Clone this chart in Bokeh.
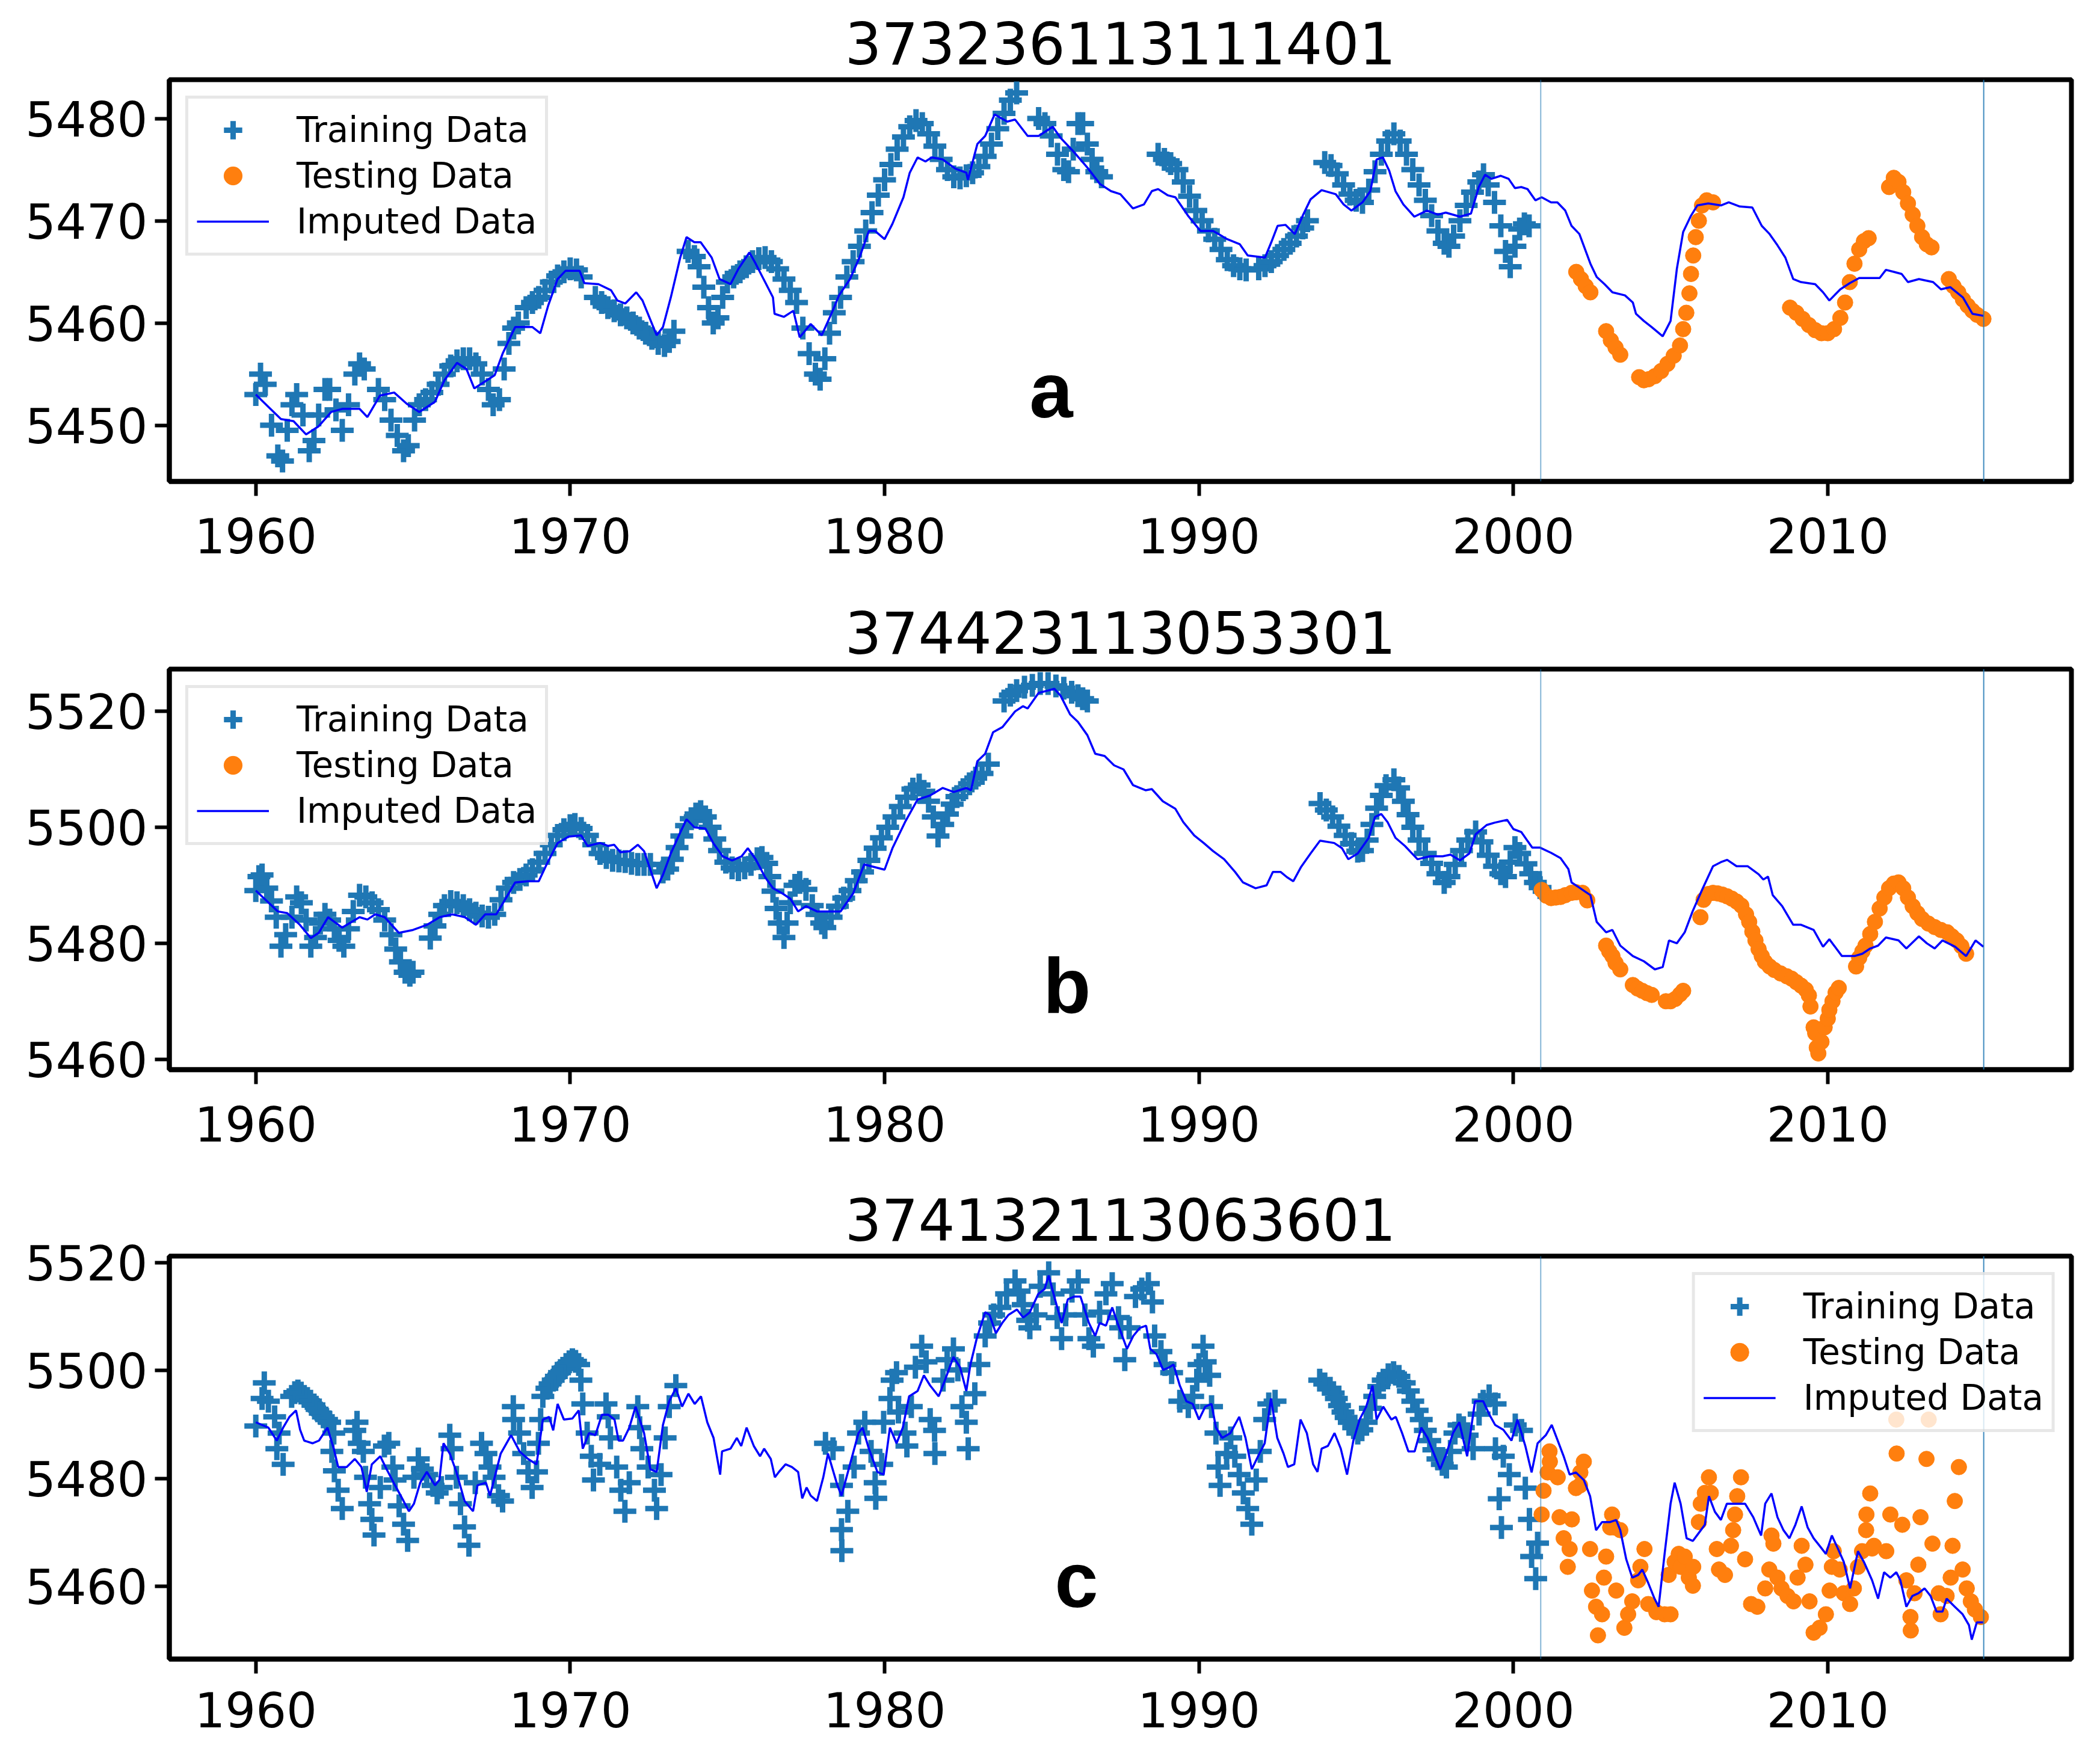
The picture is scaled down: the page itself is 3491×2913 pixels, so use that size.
from bokeh.plotting import figure
from bokeh.layouts import column
from bokeh.models import Range1d, Span, Legend, LegendItem
from bokeh.core.properties import value
from bokeh.embed import file_html
from bokeh.resources import INLINE

TRAIN_COLOR = "#1f77b4"
TEST_COLOR = "#ff7f0e"
IMP_COLOR = "#0000ff"
X_TICKS = [1960, 1970, 1980, 1990, 2000, 2010]
X_RANGE = (1957.25, 2017.75)
SPLIT_YEARS = [2000.87, 2014.96]
LEGEND_LABELS = ["Training Data", "Testing Data", "Imputed Data"]

# ---------------- panel a ----------------
A_TITLE = "373236113111401"
A_YTICKS = [5450, 5460, 5470, 5480]
A_YRANGE = (5444.5, 5483.8)
A_LETTER = ("a", 1985.3, 5453.4)
A_TRAIN = [
    (1960.0, 5453.0), (1960.15, 5455.0), (1960.3, 5454.0), (1960.5, 5450.0), (1960.7, 5447.0), (1960.85, 5446.5),
    (1961.0, 5449.5), (1961.15, 5452.0), (1961.3, 5453.0), (1961.5, 5451.0), (1961.7, 5447.5), (1961.85, 5448.5),
    (1962.0, 5451.0), (1962.2, 5453.5), (1962.35, 5453.5), (1962.55, 5451.5), (1962.75, 5449.5), (1962.95, 5452.0),
    (1963.15, 5455.0), (1963.3, 5456.0), (1963.45, 5455.5), (1963.9, 5453.5), (1964.1, 5452.5), (1964.3, 5450.5),
    (1964.5, 5449.0), (1964.7, 5447.5), (1964.85, 5448.0), (1965.05, 5450.5), (1965.2, 5452.0), (1965.4, 5452.5),
    (1965.6, 5453.2), (1965.8, 5454.0), (1966.0, 5455.0), (1966.2, 5455.8), (1966.4, 5456.3), (1966.6, 5456.5),
    (1966.8, 5456.5), (1967.0, 5456.0), (1967.2, 5455.0), (1967.4, 5453.5), (1967.55, 5452.0), (1967.75, 5452.5),
    (1967.9, 5455.5), (1968.05, 5458.0), (1968.2, 5459.5), (1968.35, 5460.0), (1968.6, 5461.5), (1968.8, 5462.0),
    (1969.0, 5462.5), (1969.2, 5463.2), (1969.4, 5464.0), (1969.6, 5464.6), (1969.8, 5465.0), (1970.0, 5465.3),
    (1970.2, 5465.2), (1970.35, 5464.5), (1970.8, 5462.5), (1971.0, 5462.0), (1971.2, 5461.5), (1971.4, 5461.2),
    (1971.6, 5460.8), (1971.8, 5460.5), (1972.0, 5460.0), (1972.2, 5459.5), (1972.4, 5459.0), (1972.6, 5458.5),
    (1972.8, 5458.0), (1973.0, 5457.8), (1973.15, 5458.2), (1973.3, 5459.2), (1973.75, 5467.0), (1973.95, 5466.5),
    (1974.1, 5465.5), (1974.25, 5463.5), (1974.4, 5461.5), (1974.55, 5460.0), (1974.7, 5460.5), (1974.85, 5462.5),
    (1975.0, 5464.0), (1975.2, 5464.5), (1975.4, 5465.0), (1975.6, 5465.5), (1975.8, 5466.0), (1976.0, 5466.3),
    (1976.2, 5466.4), (1976.4, 5466.0), (1976.6, 5465.3), (1976.8, 5464.3), (1977.0, 5463.2), (1977.2, 5462.0),
    (1977.4, 5459.5), (1977.6, 5457.0), (1977.8, 5455.0), (1977.95, 5454.5), (1978.1, 5456.5), (1978.25, 5459.0),
    (1978.4, 5461.0), (1978.6, 5462.5), (1978.8, 5464.5), (1979.0, 5466.0), (1979.2, 5467.5), (1979.4, 5469.0),
    (1979.6, 5470.8), (1979.8, 5472.5), (1980.0, 5474.0), (1980.2, 5475.5), (1980.4, 5477.0), (1980.6, 5478.2),
    (1980.8, 5479.2), (1981.0, 5479.8), (1981.2, 5479.5), (1981.4, 5478.5), (1981.6, 5477.3), (1981.8, 5476.0),
    (1982.0, 5475.0), (1982.2, 5474.3), (1982.4, 5474.2), (1982.6, 5474.4), (1982.8, 5474.7), (1983.0, 5475.3),
    (1983.2, 5476.3), (1983.4, 5477.5), (1983.6, 5479.0), (1983.8, 5480.5), (1984.0, 5481.8), (1984.2, 5482.5),
    (1984.9, 5480.0), (1985.1, 5479.5), (1985.3, 5478.3), (1985.5, 5476.5), (1985.7, 5475.0), (1985.85, 5474.8),
    (1986.0, 5477.0), (1986.15, 5479.5), (1986.3, 5479.5), (1986.45, 5477.5), (1986.6, 5476.0), (1986.75, 5474.8),
    (1986.9, 5474.3), (1988.7, 5476.5), (1988.9, 5476.0), (1989.1, 5475.6), (1989.3, 5475.0), (1989.5, 5473.8),
    (1989.7, 5472.4), (1989.9, 5471.0), (1990.1, 5470.0), (1990.3, 5469.0), (1990.5, 5468.2), (1990.7, 5467.2),
    (1990.9, 5466.2), (1991.1, 5465.6), (1991.3, 5465.3), (1991.5, 5465.2), (1991.9, 5465.3), (1992.1, 5465.6),
    (1992.3, 5466.0), (1992.5, 5466.6), (1992.7, 5467.2), (1992.9, 5467.8), (1993.1, 5468.5), (1993.3, 5469.3),
    (1993.45, 5470.0), (1994.0, 5475.7), (1994.2, 5475.4), (1994.4, 5474.6), (1994.6, 5473.5), (1994.8, 5472.6),
    (1995.0, 5472.0), (1995.2, 5471.8), (1995.4, 5473.0), (1995.6, 5474.8), (1995.8, 5476.5), (1996.0, 5477.8),
    (1996.2, 5478.5), (1996.4, 5477.8), (1996.6, 5476.5), (1996.8, 5475.0), (1997.0, 5473.5), (1997.2, 5472.0),
    (1997.4, 5470.5), (1997.6, 5469.0), (1997.8, 5467.8), (1997.95, 5467.5), (1998.1, 5468.5), (1998.3, 5470.0),
    (1998.5, 5471.5), (1998.7, 5472.8), (1998.9, 5473.8), (1999.05, 5474.5), (1999.2, 5473.5), (1999.4, 5471.8),
    (1999.6, 5469.5), (1999.75, 5467.0), (1999.9, 5465.5), (2000.05, 5467.5), (2000.2, 5469.2), (2000.35, 5469.7),
    (2000.5, 5469.5),
]
A_TEST = [
    (2002.0, 5465.0), (2002.15, 5464.3), (2002.3, 5463.6), (2002.45, 5463.0),
    (2002.95, 5459.2), (2003.1, 5458.3), (2003.25, 5457.6), (2003.4, 5456.9),
    (2004.0, 5454.7), (2004.15, 5454.4), (2004.3, 5454.5), (2004.5, 5454.8), (2004.7, 5455.3), (2004.9, 5456.0),
    (2005.1, 5456.8), (2005.3, 5457.8), (2005.4, 5459.4), (2005.5, 5461.0), (2005.6, 5462.9), (2005.65, 5464.8),
    (2005.72, 5466.6), (2005.8, 5468.4), (2005.9, 5470.0), (2006.0, 5471.5), (2006.15, 5472.0), (2006.35, 5471.8),
    (2008.8, 5461.5), (2009.0, 5461.0), (2009.2, 5460.4), (2009.4, 5459.8), (2009.6, 5459.3), (2009.8, 5459.0),
    (2010.0, 5459.0), (2010.2, 5459.4), (2010.4, 5460.5), (2010.55, 5462.0), (2010.7, 5464.0), (2010.85, 5465.8),
    (2011.0, 5467.2), (2011.15, 5468.0), (2011.3, 5468.3),
    (2011.95, 5473.3), (2012.1, 5474.2), (2012.25, 5473.8), (2012.4, 5472.8), (2012.55, 5471.7), (2012.7, 5470.6),
    (2012.85, 5469.5), (2013.0, 5468.4), (2013.15, 5467.7), (2013.3, 5467.4),
    (2013.85, 5464.3), (2014.0, 5463.6), (2014.15, 5463.0), (2014.3, 5462.3), (2014.45, 5461.7), (2014.6, 5461.2),
    (2014.75, 5460.8), (2014.95, 5460.4),
]
A_IMP = [
    (1960.0, 5453.0), (1960.4, 5451.8), (1960.8, 5450.6), (1961.2, 5450.4), (1961.6, 5449.1), (1962.0, 5449.9),
    (1962.4, 5451.3), (1962.75, 5451.6), (1963.3, 5451.6), (1963.55, 5450.8), (1963.95, 5452.9), (1964.4, 5453.2),
    (1964.8, 5452.1), (1965.2, 5451.3), (1965.7, 5452.3), (1966.0, 5454.4), (1966.4, 5456.1), (1966.7, 5455.5),
    (1966.95, 5453.6), (1967.3, 5454.3), (1967.6, 5454.9), (1967.85, 5457.0), (1968.25, 5459.6), (1968.8, 5459.6),
    (1969.05, 5459.0), (1969.3, 5461.7), (1969.6, 5464.3), (1969.85, 5465.1), (1970.3, 5465.1), (1970.45, 5463.9),
    (1970.9, 5463.8), (1971.3, 5463.2), (1971.5, 5462.2), (1971.75, 5461.9), (1972.1, 5463.0), (1972.3, 5462.2),
    (1972.75, 5458.8), (1972.95, 5459.6), (1973.2, 5462.5), (1973.5, 5466.4), (1973.7, 5468.4), (1973.95, 5467.9),
    (1974.15, 5467.9), (1974.5, 5466.4), (1974.75, 5464.3), (1975.1, 5463.8), (1975.35, 5465.3), (1975.7, 5466.9),
    (1975.9, 5465.8), (1976.2, 5464.0), (1976.45, 5462.5), (1976.5, 5460.9), (1976.8, 5460.6), (1977.1, 5461.2),
    (1977.3, 5458.6), (1977.65, 5459.9), (1978.0, 5458.8), (1978.35, 5461.2), (1978.55, 5462.7), (1978.9, 5464.3),
    (1979.2, 5466.4), (1979.5, 5469.0), (1979.7, 5469.0), (1980.0, 5468.2), (1980.25, 5469.7), (1980.6, 5472.3),
    (1980.8, 5474.7), (1981.05, 5476.2), (1981.3, 5475.8), (1981.5, 5476.2), (1981.85, 5476.0), (1982.25, 5475.1),
    (1982.6, 5474.7), (1982.65, 5474.0), (1982.95, 5477.5), (1983.2, 5478.3), (1983.5, 5480.4), (1983.9, 5479.7),
    (1984.15, 5479.9), (1984.55, 5478.3), (1984.9, 5478.3), (1985.35, 5479.2), (1985.6, 5478.1), (1986.0, 5476.8),
    (1986.45, 5475.2), (1986.85, 5473.6), (1987.2, 5472.9), (1987.5, 5472.6), (1987.9, 5471.2), (1988.25, 5471.6),
    (1988.5, 5472.9), (1988.7, 5473.1), (1989.0, 5472.5), (1989.25, 5472.3), (1989.65, 5470.5), (1990.05, 5469.0),
    (1990.45, 5469.0), (1990.9, 5468.2), (1991.3, 5467.7), (1991.55, 5466.6), (1992.1, 5466.4), (1992.3, 5467.9),
    (1992.5, 5469.5), (1992.75, 5469.6), (1993.05, 5468.7), (1993.3, 5470.5), (1993.55, 5472.1), (1993.9, 5473.0),
    (1994.35, 5472.6), (1994.6, 5471.6), (1994.85, 5471.0), (1995.2, 5471.8), (1995.45, 5472.9), (1995.65, 5476.0),
    (1995.85, 5476.2), (1996.05, 5474.9), (1996.25, 5472.9), (1996.5, 5471.6), (1996.85, 5470.4), (1997.25, 5471.0),
    (1997.6, 5470.6), (1997.85, 5470.8), (1998.3, 5470.4), (1998.65, 5470.7), (1998.9, 5473.3), (1999.1, 5474.5),
    (1999.3, 5474.1), (1999.6, 5474.4), (1999.85, 5474.1), (2000.05, 5473.2), (2000.25, 5473.3), (2000.45, 5473.1),
    (2000.7, 5472.0), (2000.9, 5472.3), (2001.2, 5471.8), (2001.4, 5471.8), (2001.65, 5471.0), (2001.85, 5469.5),
    (2002.1, 5468.7), (2002.45, 5465.8), (2002.65, 5464.5), (2002.9, 5463.8), (2003.15, 5463.0), (2003.55, 5462.7),
    (2003.8, 5462.0), (2003.9, 5460.9), (2004.15, 5460.2), (2004.4, 5459.6), (2004.75, 5458.7), (2005.0, 5460.2),
    (2005.2, 5465.3), (2005.4, 5468.9), (2005.65, 5470.5), (2005.85, 5471.5), (2006.2, 5471.7), (2006.6, 5471.5),
    (2006.85, 5471.8), (2007.2, 5471.4), (2007.6, 5471.3), (2007.9, 5469.5), (2008.15, 5468.7), (2008.4, 5467.6),
    (2008.65, 5466.4), (2008.9, 5464.3), (2009.15, 5464.0), (2009.6, 5463.8), (2009.85, 5463.0), (2010.05, 5462.2),
    (2010.4, 5463.3), (2010.7, 5463.9), (2011.0, 5464.4), (2011.3, 5464.4), (2011.65, 5464.4), (2011.85, 5465.2),
    (2012.1, 5465.0), (2012.35, 5464.8), (2012.55, 5464.0), (2012.9, 5464.3), (2013.35, 5464.0), (2013.6, 5463.3),
    (2013.9, 5463.5), (2014.3, 5462.5), (2014.6, 5460.9), (2014.95, 5460.7),
]

# ---------------- panel b ----------------
B_TITLE = "374423113053301"
B_YTICKS = [5460, 5480, 5500, 5520]
B_YRANGE = (5458.2, 5527.3)
B_LETTER = ("b", 1985.8, 5472.7)
B_TRAIN = [
    (1960.0, 5489.1), (1960.1, 5491.5), (1960.2, 5491.8), (1960.35, 5489.5), (1960.5, 5487.3), (1960.65, 5484.5),
    (1960.8, 5479.5), (1960.95, 5481.5), (1961.15, 5484.5), (1961.3, 5488.0), (1961.45, 5487.0), (1961.6, 5484.0),
    (1961.75, 5479.5), (1961.9, 5481.0), (1962.05, 5483.5), (1962.2, 5485.0), (1962.35, 5484.0), (1962.5, 5482.5),
    (1962.65, 5480.5), (1962.8, 5479.5), (1962.95, 5482.5), (1963.1, 5485.5), (1963.3, 5488.3), (1963.5, 5488.0),
    (1963.7, 5487.0), (1963.9, 5485.8), (1964.1, 5484.0), (1964.3, 5481.5), (1964.45, 5479.0), (1964.6, 5476.8),
    (1964.75, 5475.0), (1964.9, 5474.5), (1965.0, 5475.0), (1965.55, 5480.9), (1965.7, 5483.0), (1965.85, 5485.0),
    (1966.0, 5486.5), (1966.2, 5487.2), (1966.4, 5487.0), (1966.6, 5486.5), (1966.8, 5485.8), (1967.0, 5485.2),
    (1967.2, 5484.7), (1967.4, 5484.5), (1967.6, 5485.0), (1967.8, 5487.5), (1968.0, 5489.5), (1968.2, 5490.5),
    (1968.4, 5491.0), (1968.6, 5491.8), (1968.8, 5492.7), (1969.0, 5494.0), (1969.2, 5495.5), (1969.4, 5497.0),
    (1969.6, 5498.6), (1969.8, 5499.6), (1970.0, 5500.3), (1970.15, 5500.5), (1970.35, 5499.8), (1970.55, 5498.6),
    (1970.75, 5497.0), (1970.95, 5495.5), (1971.15, 5494.8), (1971.35, 5494.3), (1971.55, 5494.2), (1971.75, 5494.1),
    (1971.95, 5493.8), (1972.15, 5493.6), (1972.35, 5493.6), (1972.55, 5493.6), (1972.95, 5492.3), (1973.1, 5492.8),
    (1973.25, 5494.5), (1973.4, 5496.5), (1973.55, 5498.5), (1973.7, 5500.3), (1973.85, 5501.5), (1974.0, 5502.3),
    (1974.15, 5502.7), (1974.3, 5501.8), (1974.45, 5500.0), (1974.6, 5498.0), (1974.75, 5496.0), (1974.95, 5494.0),
    (1975.15, 5493.0), (1975.35, 5492.7), (1975.55, 5493.0), (1975.75, 5493.6), (1975.95, 5494.6), (1976.1, 5494.8),
    (1976.25, 5493.8), (1976.35, 5491.5), (1976.45, 5489.0), (1976.55, 5486.0), (1976.65, 5483.5), (1976.8, 5481.0),
    (1976.9, 5483.5), (1977.0, 5487.0), (1977.15, 5490.0), (1977.3, 5490.5), (1977.5, 5489.3), (1977.7, 5486.5),
    (1977.85, 5485.0), (1978.0, 5483.5), (1978.1, 5482.7), (1978.3, 5484.5), (1978.5, 5486.4), (1978.7, 5487.8),
    (1978.9, 5489.1), (1979.1, 5490.8), (1979.3, 5492.3), (1979.5, 5494.3), (1979.7, 5496.4), (1979.9, 5498.2),
    (1980.1, 5500.0), (1980.3, 5501.8), (1980.5, 5503.6), (1980.7, 5505.2), (1980.9, 5506.6), (1981.1, 5507.3),
    (1981.25, 5506.2), (1981.4, 5504.5), (1981.55, 5501.8), (1981.7, 5498.5), (1981.85, 5500.5), (1982.0, 5502.3),
    (1982.15, 5504.0), (1982.3, 5505.3), (1982.5, 5506.5), (1982.7, 5507.5), (1982.9, 5508.5), (1983.1, 5509.3),
    (1983.3, 5510.9), (1983.8, 5521.8), (1984.0, 5522.8), (1984.2, 5523.6), (1984.45, 5524.2), (1984.7, 5524.5),
    (1984.95, 5524.8), (1985.2, 5524.8), (1985.45, 5524.4), (1985.7, 5524.0), (1985.95, 5523.3), (1986.15, 5522.7),
    (1986.3, 5522.2), (1986.45, 5521.8), (1993.85, 5504.1), (1994.05, 5503.0), (1994.25, 5501.8), (1994.45, 5500.2),
    (1994.65, 5498.6), (1994.85, 5497.2), (1995.05, 5495.9), (1995.2, 5496.0), (1995.35, 5497.8), (1995.5, 5500.5),
    (1995.65, 5503.3), (1995.8, 5505.5), (1995.95, 5507.2), (1996.2, 5508.2), (1996.35, 5506.8), (1996.5, 5504.5),
    (1996.65, 5502.2), (1996.8, 5500.0), (1997.0, 5497.8), (1997.2, 5495.5), (1997.4, 5493.8), (1997.6, 5492.0),
    (1997.8, 5490.5), (1997.95, 5491.5), (1998.15, 5493.6), (1998.35, 5496.0), (1998.55, 5497.8), (1998.8, 5499.2),
    (1999.0, 5497.5), (1999.2, 5495.2), (1999.4, 5493.3), (1999.6, 5492.0), (1999.75, 5491.5), (1999.9, 5494.0),
    (2000.05, 5496.5), (2000.2, 5495.5), (2000.4, 5493.7), (2000.55, 5492.0), (2000.7, 5490.5), (2000.85, 5489.6),
]
B_TEST = [
    (2000.9, 5489.2), (2001.05, 5488.2), (2001.2, 5487.8), (2001.35, 5487.9), (2001.5, 5488.0), (2001.65, 5488.3),
    (2001.85, 5488.7), (2002.0, 5488.8), (2002.2, 5488.7), (2002.35, 5487.4),
    (2002.95, 5479.6), (2003.05, 5478.6), (2003.15, 5477.8), (2003.25, 5476.6), (2003.4, 5475.5),
    (2003.8, 5472.8), (2003.95, 5472.2), (2004.1, 5471.8), (2004.25, 5471.4), (2004.4, 5471.1),
    (2004.85, 5470.0), (2005.0, 5470.0), (2005.15, 5470.4), (2005.3, 5471.2), (2005.4, 5471.8),
    (2005.95, 5484.5), (2006.05, 5487.5), (2006.2, 5488.5), (2006.35, 5488.7), (2006.5, 5488.6), (2006.65, 5488.4),
    (2006.8, 5488.1), (2006.95, 5487.7), (2007.1, 5487.2), (2007.25, 5486.5), (2007.4, 5485.0), (2007.5, 5483.7),
    (2007.6, 5482.0), (2007.7, 5480.5), (2007.8, 5479.0), (2007.9, 5477.8), (2008.0, 5476.8), (2008.15, 5476.0),
    (2008.3, 5475.4), (2008.5, 5474.8), (2008.7, 5474.3), (2008.85, 5473.9), (2009.0, 5473.3), (2009.15, 5472.7),
    (2009.3, 5472.0), (2009.4, 5471.0), (2009.45, 5469.1), (2009.55, 5465.5), (2009.6, 5464.5), (2009.65, 5462.0),
    (2009.7, 5461.0), (2009.8, 5463.0), (2009.9, 5465.5), (2010.0, 5467.0), (2010.05, 5468.5), (2010.15, 5470.0),
    (2010.25, 5471.5), (2010.35, 5472.3),
    (2010.9, 5476.0), (2011.0, 5477.5), (2011.1, 5478.6), (2011.2, 5479.6), (2011.35, 5481.6), (2011.5, 5483.7),
    (2011.65, 5486.0), (2011.8, 5487.9), (2011.95, 5489.5), (2012.1, 5490.3), (2012.25, 5490.5), (2012.4, 5489.5),
    (2012.55, 5487.9), (2012.7, 5486.4), (2012.85, 5485.2), (2013.0, 5484.2), (2013.2, 5483.4), (2013.4, 5482.8),
    (2013.6, 5482.3), (2013.8, 5481.9), (2013.95, 5481.2), (2014.1, 5480.5), (2014.25, 5479.5), (2014.4, 5478.2),
]
B_IMP = [
    (1960.0, 5489.1), (1960.35, 5487.3), (1960.7, 5485.5), (1961.0, 5485.2), (1961.4, 5483.2), (1961.75, 5480.9),
    (1962.0, 5481.8), (1962.3, 5484.5), (1962.75, 5482.7), (1963.3, 5484.5), (1963.55, 5484.1), (1963.8, 5485.0),
    (1964.1, 5484.5), (1964.55, 5481.8), (1965.0, 5482.3), (1965.45, 5483.2), (1965.85, 5484.5), (1966.25, 5485.0),
    (1966.65, 5484.5), (1967.0, 5483.2), (1967.3, 5485.0), (1967.65, 5485.0), (1968.0, 5488.2), (1968.25, 5490.5),
    (1968.65, 5490.7), (1969.0, 5490.7), (1969.25, 5493.6), (1969.6, 5497.3), (1969.95, 5498.4), (1970.35, 5498.6),
    (1970.55, 5496.8), (1970.95, 5497.3), (1971.2, 5496.8), (1971.4, 5497.0), (1971.6, 5495.7), (1971.9, 5495.9),
    (1972.15, 5497.0), (1972.35, 5495.9), (1972.55, 5492.7), (1972.75, 5489.5), (1972.95, 5491.8), (1973.2, 5495.5),
    (1973.5, 5499.1), (1973.7, 5501.4), (1973.95, 5500.0), (1974.3, 5499.8), (1974.55, 5497.3), (1974.85, 5495.0),
    (1975.15, 5494.3), (1975.45, 5495.0), (1975.65, 5496.4), (1975.9, 5494.5), (1976.2, 5491.4), (1976.45, 5489.5),
    (1976.75, 5488.6), (1977.0, 5487.7), (1977.25, 5485.5), (1977.5, 5486.4), (1977.85, 5485.5), (1978.1, 5485.5),
    (1978.6, 5485.5), (1979.0, 5488.6), (1979.35, 5493.6), (1980.0, 5492.7), (1980.25, 5496.4), (1980.65, 5500.9),
    (1981.05, 5504.8), (1981.45, 5505.5), (1981.85, 5506.8), (1982.2, 5506.1), (1982.6, 5506.8), (1982.75, 5506.4),
    (1982.95, 5511.4), (1983.2, 5512.7), (1983.45, 5516.4), (1983.75, 5517.3), (1984.15, 5520.0), (1984.4, 5520.9),
    (1984.55, 5520.5), (1984.9, 5523.2), (1985.2, 5523.6), (1985.4, 5523.9), (1985.6, 5522.7), (1985.9, 5519.5),
    (1986.15, 5518.2), (1986.45, 5515.9), (1986.7, 5512.7), (1987.0, 5512.3), (1987.3, 5510.7), (1987.6, 5510.0),
    (1987.9, 5507.3), (1988.3, 5506.4), (1988.5, 5506.6), (1988.85, 5504.5), (1989.25, 5503.2), (1989.5, 5500.9),
    (1989.85, 5498.6), (1990.15, 5497.3), (1990.45, 5495.9), (1990.8, 5494.5), (1991.15, 5492.3), (1991.4, 5490.5),
    (1991.8, 5489.5), (1992.15, 5490.0), (1992.35, 5492.3), (1992.6, 5492.3), (1992.8, 5491.4), (1993.0, 5490.7),
    (1993.25, 5493.2), (1993.55, 5495.5), (1993.85, 5497.7), (1994.3, 5497.3), (1994.55, 5496.4), (1994.75, 5494.5),
    (1995.05, 5495.5), (1995.4, 5498.2), (1995.6, 5501.8), (1995.8, 5502.3), (1996.0, 5500.9), (1996.25, 5498.2),
    (1996.55, 5496.8), (1996.95, 5494.5), (1997.35, 5495.0), (1997.75, 5495.0), (1998.0, 5495.3), (1998.3, 5494.3),
    (1998.6, 5495.5), (1998.8, 5498.8), (1999.15, 5500.4), (1999.4, 5500.8), (1999.8, 5501.3), (2000.0, 5499.7),
    (2000.25, 5499.2), (2000.6, 5496.5), (2000.85, 5496.5), (2001.2, 5495.6), (2001.5, 5494.7), (2001.75, 5492.8),
    (2001.85, 5490.5), (2002.1, 5489.6), (2002.45, 5488.3), (2002.65, 5483.7), (2002.95, 5481.9), (2003.15, 5482.3),
    (2003.4, 5479.6), (2003.8, 5477.8), (2004.15, 5476.9), (2004.5, 5475.5), (2004.75, 5475.9), (2004.95, 5480.5),
    (2005.2, 5480.0), (2005.45, 5481.9), (2005.7, 5485.5), (2006.0, 5489.2), (2006.35, 5493.3), (2006.6, 5494.0),
    (2006.8, 5494.4), (2007.1, 5493.3), (2007.45, 5493.3), (2007.8, 5491.9), (2007.95, 5491.0), (2008.1, 5491.5),
    (2008.25, 5488.3), (2008.55, 5486.4), (2008.9, 5483.2), (2009.15, 5483.2), (2009.55, 5482.3), (2009.85, 5479.4),
    (2010.05, 5480.7), (2010.45, 5477.8), (2010.85, 5477.8), (2011.1, 5478.2), (2011.35, 5479.1), (2011.6, 5479.6),
    (2011.85, 5481.0), (2012.25, 5480.5), (2012.5, 5479.1), (2012.9, 5481.2), (2013.15, 5480.0), (2013.4, 5479.1),
    (2013.65, 5480.5), (2014.05, 5479.4), (2014.4, 5477.8), (2014.7, 5480.5), (2014.95, 5479.4),
]

# ---------------- panel c ----------------
C_TITLE = "374132113063601"
C_YTICKS = [5460, 5480, 5500, 5520]
C_YRANGE = (5446.5, 5521.2)
C_LETTER = ("c", 1986.1, 5461.2)
C_TRAIN = [
    (1960.0, 5489.7), (1960.2, 5494.8), (1960.27, 5497.7), (1960.4, 5494.3), (1960.6, 5491.4), (1960.67, 5485.5),
    (1960.74, 5488.4), (1960.87, 5482.6), (1961.14, 5495.2), (1961.24, 5495.9), (1961.34, 5496.2), (1961.44, 5495.8),
    (1961.54, 5495.2), (1961.64, 5494.8), (1961.74, 5494.3), (1961.85, 5493.6), (1961.95, 5492.8), (1962.05, 5492.1),
    (1962.15, 5491.4), (1962.25, 5490.9), (1962.35, 5490.4), (1962.42, 5485.0), (1962.48, 5488.4), (1962.5, 5481.4),
    (1962.62, 5477.8), (1962.75, 5474.4), (1963.15, 5488.9), (1963.22, 5490.4), (1963.29, 5486.5), (1963.42, 5485.0),
    (1963.49, 5480.2), (1963.62, 5475.3), (1963.69, 5472.4), (1963.76, 5469.5), (1963.96, 5478.3), (1964.09, 5486.0),
    (1964.23, 5486.5), (1964.36, 5482.1), (1964.43, 5479.7), (1964.56, 5474.9), (1964.7, 5471.5), (1964.83, 5468.5),
    (1965.03, 5480.2), (1965.17, 5483.6), (1965.3, 5481.7), (1965.44, 5480.7), (1965.64, 5478.7), (1965.77, 5477.3),
    (1965.9, 5478.3), (1966.17, 5488.0), (1966.24, 5485.5), (1966.38, 5480.2), (1966.51, 5475.3), (1966.64, 5471.0),
    (1966.78, 5467.6), (1966.98, 5479.2), (1967.18, 5486.5), (1967.32, 5484.6), (1967.45, 5482.1), (1967.58, 5480.2),
    (1967.72, 5476.8), (1967.85, 5475.8), (1968.19, 5493.3), (1968.2, 5490.9), (1968.39, 5488.4), (1968.52, 5484.6),
    (1968.66, 5481.2), (1968.79, 5478.3), (1968.93, 5481.2), (1968.99, 5486.5), (1969.06, 5490.9), (1969.13, 5495.2),
    (1969.26, 5496.7), (1969.36, 5497.5), (1969.46, 5498.2), (1969.56, 5498.9), (1969.66, 5499.6), (1969.77, 5500.4),
    (1969.87, 5501.1), (1969.97, 5501.6), (1970.07, 5502.0), (1970.17, 5501.7), (1970.27, 5501.1), (1970.34, 5498.2),
    (1970.4, 5493.8), (1970.54, 5488.4), (1970.67, 5484.1), (1970.74, 5479.7), (1970.94, 5482.6), (1971.14, 5493.8),
    (1971.21, 5491.4), (1971.28, 5487.5), (1971.48, 5482.1), (1971.61, 5477.8), (1971.74, 5473.9), (1971.88, 5479.2),
    (1972.15, 5493.3), (1972.21, 5489.4), (1972.28, 5485.5), (1972.48, 5482.1), (1972.68, 5477.8), (1972.75, 5474.4),
    (1972.89, 5480.7), (1973.02, 5487.5), (1973.15, 5493.3), (1973.36, 5497.2),
    (1978.12, 5486.5), (1978.36, 5485.5), (1978.63, 5478.7), (1978.63, 5470.5), (1978.64, 5466.6), (1978.83, 5473.9),
    (1979.03, 5482.1), (1979.17, 5488.4), (1979.37, 5490.4), (1979.57, 5485.0), (1979.7, 5479.2), (1979.72, 5476.3),
    (1979.91, 5482.6), (1979.97, 5490.4), (1980.17, 5494.8), (1980.24, 5498.2), (1980.38, 5499.6), (1980.44, 5492.3),
    (1980.65, 5488.4), (1980.71, 5486.0), (1980.85, 5493.3), (1980.98, 5500.6), (1981.18, 5504.5), (1981.32, 5501.6),
    (1981.45, 5490.9), (1981.59, 5488.9), (1981.6, 5484.6), (1981.86, 5498.2), (1981.99, 5502.0), (1982.19, 5504.0),
    (1982.33, 5500.1), (1982.46, 5493.3), (1982.6, 5490.4), (1982.66, 5485.5), (1982.87, 5495.7), (1983.0, 5501.1),
    (1983.2, 5506.4), (1983.34, 5508.8), (1983.47, 5510.3), (1983.67, 5511.7), (1983.88, 5514.2), (1984.15, 5516.6),
    (1984.28, 5514.7), (1984.41, 5512.2), (1984.55, 5509.3), (1984.62, 5507.9), (1984.82, 5510.3), (1984.95, 5515.6),
    (1985.22, 5518.1), (1985.36, 5514.2), (1985.49, 5509.8), (1985.63, 5505.9), (1985.76, 5510.3), (1985.96, 5514.7),
    (1986.16, 5516.6), (1986.37, 5510.3), (1986.5, 5505.9), (1986.64, 5504.5), (1986.84, 5510.8), (1987.04, 5514.2),
    (1987.24, 5516.1), (1987.44, 5509.8), (1987.51, 5507.9), (1987.64, 5502.0), (1987.78, 5507.9), (1987.98, 5513.7),
    (1988.18, 5515.1), (1988.39, 5516.1), (1988.52, 5512.7), (1988.59, 5506.4), (1988.79, 5503.5), (1988.92, 5501.1),
    (1989.13, 5499.6), (1989.39, 5494.3), (1989.66, 5493.3), (1989.8, 5495.2), (1989.93, 5498.2), (1990.0, 5501.1),
    (1990.13, 5504.5), (1990.2, 5501.6), (1990.34, 5499.1), (1990.4, 5493.3), (1990.54, 5488.4), (1990.61, 5482.1),
    (1990.67, 5478.7), (1990.88, 5484.6), (1991.01, 5487.5), (1991.14, 5484.1), (1991.28, 5480.7), (1991.41, 5477.3),
    (1991.55, 5474.4), (1991.68, 5471.5), (1991.82, 5479.7), (1991.95, 5485.0), (1992.09, 5490.9), (1992.22, 5493.8),
    (1992.42, 5494.3),
    (1993.84, 5498.2), (1994.0, 5497.5), (1994.17, 5496.7), (1994.27, 5495.8), (1994.37, 5494.8), (1994.47, 5493.5),
    (1994.58, 5492.3), (1994.68, 5491.3), (1994.78, 5490.4), (1994.92, 5489.4), (1995.05, 5488.4), (1995.18, 5489.0),
    (1995.32, 5490.4), (1995.45, 5493.0), (1995.59, 5495.2), (1995.72, 5497.0), (1995.86, 5498.2), (1996.02, 5499.2),
    (1996.19, 5499.6), (1996.36, 5498.9), (1996.53, 5497.7), (1996.66, 5496.2), (1996.8, 5494.3), (1996.94, 5492.6),
    (1997.07, 5490.9), (1997.2, 5488.9), (1997.34, 5487.0), (1997.47, 5485.3), (1997.6, 5483.6), (1997.74, 5482.6),
    (1997.87, 5482.1), (1998.0, 5485.0), (1998.14, 5488.4), (1998.27, 5489.9), (1998.41, 5489.4), (1998.53, 5488.0),
    (1998.72, 5485.5), (1998.91, 5491.9), (1999.04, 5494.3), (1999.23, 5495.3), (1999.42, 5493.8), (1999.43, 5485.5),
    (1999.55, 5476.2), (1999.62, 5470.9), (1999.68, 5484.1), (1999.87, 5480.7), (2000.06, 5489.9), (2000.26, 5488.9),
    (2000.38, 5478.2), (2000.51, 5472.4), (2000.58, 5465.5), (2000.71, 5461.4), (2000.77, 5468.0),
]
C_TEST = [
    (2000.9, 5473.3), (2000.96, 5477.7), (2001.09, 5481.1), (2001.15, 5485.0), (2001.16, 5483.1), (2001.41, 5480.2),
    (2001.47, 5472.8), (2001.6, 5468.9), (2001.73, 5463.6), (2001.79, 5466.9), (2001.86, 5472.4), (2001.99, 5478.2),
    (2002.12, 5478.7), (2002.13, 5481.1), (2002.24, 5483.1), (2002.44, 5466.9), (2002.5, 5459.2), (2002.63, 5456.2),
    (2002.69, 5450.9), (2002.82, 5454.8), (2002.88, 5461.6), (2002.95, 5465.5), (2003.08, 5470.9), (2003.14, 5473.3),
    (2003.21, 5470.9), (2003.27, 5459.2), (2003.4, 5470.4), (2003.53, 5452.3), (2003.65, 5454.8), (2003.78, 5457.2),
    (2003.97, 5461.1), (2004.04, 5463.6), (2004.17, 5466.9), (2004.29, 5456.7), (2004.55, 5455.2), (2004.81, 5454.8),
    (2004.94, 5462.1), (2005.0, 5454.8), (2005.13, 5464.5), (2005.26, 5466.0), (2005.32, 5463.6), (2005.45, 5465.5),
    (2005.58, 5461.6), (2005.71, 5460.1), (2005.72, 5463.6), (2005.9, 5471.9), (2005.96, 5475.3), (2006.09, 5477.3),
    (2006.22, 5480.2), (2006.28, 5477.3), (2006.47, 5466.9), (2006.54, 5463.1), (2006.73, 5462.1), (2006.92, 5467.5),
    (2006.99, 5470.4), (2007.05, 5473.3), (2007.12, 5476.7), (2007.24, 5480.2), (2007.37, 5465.0), (2007.56, 5456.7),
    (2007.76, 5456.2), (2008.01, 5459.6), (2008.14, 5463.1), (2008.21, 5469.4), (2008.27, 5467.9), (2008.4, 5461.6),
    (2008.53, 5459.6), (2008.72, 5458.2), (2008.91, 5457.2), (2009.04, 5461.6), (2009.17, 5467.5), (2009.29, 5464.0),
    (2009.42, 5457.2), (2009.55, 5451.4), (2009.74, 5452.3), (2009.94, 5454.8), (2010.06, 5459.2), (2010.13, 5463.6),
    (2010.19, 5466.5), (2010.38, 5463.1), (2010.51, 5458.7), (2010.71, 5456.7), (2010.83, 5459.6), (2010.96, 5463.6),
    (2011.09, 5466.5), (2011.22, 5470.4), (2011.23, 5473.3), (2011.35, 5477.2), (2011.41, 5467.0), (2011.47, 5467.5),
    (2011.86, 5466.5), (2011.99, 5473.3), (2012.18, 5490.9), (2012.19, 5484.6), (2012.37, 5471.4), (2012.5, 5461.1),
    (2012.63, 5454.3), (2012.64, 5451.8), (2012.76, 5458.7), (2012.88, 5464.0), (2012.95, 5472.8), (2013.14, 5483.6),
    (2013.21, 5490.9), (2013.33, 5467.9), (2013.53, 5458.7), (2013.59, 5454.8), (2013.78, 5458.2), (2013.91, 5461.6),
    (2013.97, 5467.5), (2014.04, 5475.8), (2014.17, 5482.1), (2014.29, 5463.1), (2014.42, 5459.6), (2014.55, 5457.2),
    (2014.68, 5455.7), (2014.87, 5454.3),
]
C_IMP = [
    (1960.0, 5490.4), (1960.2, 5489.9), (1960.4, 5489.4), (1960.67, 5487.0), (1960.87, 5489.4), (1961.07, 5491.4),
    (1961.28, 5492.6), (1961.41, 5489.0), (1961.54, 5487.0), (1961.81, 5486.5), (1962.01, 5487.0), (1962.28, 5489.4),
    (1962.48, 5485.5), (1962.62, 5482.1), (1962.89, 5482.1), (1963.15, 5483.6), (1963.36, 5482.1), (1963.53, 5477.5),
    (1963.69, 5482.6), (1963.96, 5484.1), (1964.16, 5481.7), (1964.43, 5478.7), (1964.7, 5475.8), (1964.87, 5473.9),
    (1965.03, 5475.3), (1965.23, 5479.2), (1965.44, 5481.2), (1965.7, 5478.7), (1965.84, 5479.7), (1965.97, 5486.5),
    (1966.17, 5484.6), (1966.38, 5481.2), (1966.64, 5475.8), (1966.91, 5473.9), (1967.05, 5478.7), (1967.32, 5479.2),
    (1967.45, 5476.8), (1967.79, 5484.6), (1968.12, 5488.0), (1968.39, 5485.0), (1968.66, 5483.6), (1968.93, 5482.6),
    (1969.13, 5490.9), (1969.33, 5491.4), (1969.46, 5488.9), (1969.6, 5493.8), (1969.8, 5490.9), (1970.07, 5491.1),
    (1970.27, 5492.6), (1970.4, 5485.5), (1970.6, 5488.4), (1970.8, 5488.0), (1971.01, 5491.8), (1971.21, 5491.8),
    (1971.41, 5490.9), (1971.54, 5487.0), (1971.68, 5487.0), (1971.88, 5489.4), (1972.08, 5493.3), (1972.35, 5488.4),
    (1972.55, 5481.7), (1972.75, 5481.2), (1972.95, 5489.9), (1973.15, 5494.3), (1973.36, 5496.7), (1973.56, 5493.3),
    (1973.76, 5495.7), (1973.96, 5493.8), (1974.16, 5495.2), (1974.36, 5490.4), (1974.56, 5487.5), (1974.77, 5480.7),
    (1974.83, 5485.0), (1975.1, 5485.5), (1975.3, 5487.5), (1975.44, 5486.0), (1975.61, 5489.4), (1975.84, 5486.0),
    (1976.04, 5484.1), (1976.17, 5485.5), (1976.38, 5483.6), (1976.51, 5480.2), (1976.64, 5481.2), (1976.85, 5482.6),
    (1977.05, 5482.1), (1977.25, 5481.2), (1977.38, 5476.3), (1977.52, 5478.3), (1977.65, 5476.8), (1977.85, 5475.8),
    (1978.05, 5480.2), (1978.2, 5484.6), (1978.5, 5478.7), (1978.63, 5476.8), (1978.9, 5482.6), (1979.17, 5488.4),
    (1979.3, 5489.4), (1979.5, 5485.5), (1979.77, 5481.2), (1979.97, 5480.7), (1980.17, 5489.4), (1980.38, 5486.5),
    (1980.58, 5489.4), (1980.78, 5495.2), (1981.05, 5496.2), (1981.25, 5499.1), (1981.45, 5497.2), (1981.72, 5495.2),
    (1981.92, 5498.2), (1982.19, 5502.5), (1982.4, 5500.6), (1982.6, 5496.2), (1982.73, 5501.1), (1982.93, 5505.9),
    (1983.2, 5510.8), (1983.34, 5510.3), (1983.54, 5506.9), (1983.74, 5508.8), (1983.94, 5510.3), (1984.21, 5511.3),
    (1984.41, 5509.8), (1984.62, 5510.8), (1984.89, 5514.2), (1985.09, 5515.1), (1985.22, 5517.6), (1985.42, 5513.2),
    (1985.63, 5508.8), (1985.83, 5513.2), (1986.03, 5513.7), (1986.23, 5513.7), (1986.5, 5508.8), (1986.7, 5506.4),
    (1986.84, 5508.8), (1987.04, 5508.3), (1987.24, 5511.7), (1987.44, 5508.3), (1987.71, 5504.0), (1987.91, 5506.4),
    (1988.12, 5507.9), (1988.32, 5508.3), (1988.45, 5504.0), (1988.65, 5503.0), (1988.86, 5500.1), (1989.06, 5500.6),
    (1989.19, 5501.1), (1989.39, 5497.2), (1989.6, 5494.3), (1989.8, 5493.8), (1990.0, 5490.9), (1990.2, 5493.3),
    (1990.4, 5493.8), (1990.54, 5489.4), (1990.74, 5487.5), (1991.0, 5488.4), (1991.28, 5491.4), (1991.48, 5487.5),
    (1991.68, 5481.7), (1991.88, 5484.1), (1992.09, 5486.5), (1992.29, 5494.8), (1992.49, 5487.5), (1992.69, 5484.6),
    (1992.83, 5482.1), (1993.03, 5482.6), (1993.23, 5490.9), (1993.43, 5488.4), (1993.63, 5482.6), (1993.77, 5481.2),
    (1993.9, 5485.5), (1994.1, 5486.0), (1994.31, 5488.4), (1994.51, 5485.5), (1994.71, 5480.7), (1994.91, 5487.0),
    (1995.11, 5490.9), (1995.32, 5493.3), (1995.52, 5497.2), (1995.65, 5490.9), (1995.86, 5493.3), (1996.12, 5490.9),
    (1996.26, 5491.4), (1996.46, 5488.4), (1996.66, 5485.0), (1996.86, 5485.0), (1997.07, 5489.4), (1997.27, 5487.5),
    (1997.47, 5484.6), (1997.67, 5481.7), (1997.87, 5484.6), (1998.08, 5488.4), (1998.28, 5490.4), (1998.53, 5484.1),
    (1998.78, 5494.3), (1999.04, 5494.3), (1999.23, 5491.9), (1999.42, 5489.9), (1999.68, 5489.0), (1999.94, 5487.0),
    (2000.13, 5490.9), (2000.38, 5486.0), (2000.58, 5481.1), (2000.77, 5486.5), (2001.03, 5488.0), (2001.22, 5489.9),
    (2001.41, 5487.0), (2001.6, 5484.1), (2001.79, 5480.7), (2001.99, 5481.1), (2002.24, 5479.7), (2002.44, 5476.7),
    (2002.63, 5470.4), (2002.82, 5471.9), (2003.08, 5471.9), (2003.27, 5472.3), (2003.4, 5470.4), (2003.59, 5465.0),
    (2003.78, 5461.6), (2003.97, 5462.1), (2004.1, 5463.1), (2004.29, 5460.6), (2004.49, 5457.7), (2004.62, 5456.2),
    (2004.81, 5466.0), (2005.0, 5475.3), (2005.13, 5479.2), (2005.32, 5475.3), (2005.51, 5468.9), (2005.71, 5468.4),
    (2005.9, 5469.9), (2006.09, 5471.4), (2006.22, 5476.7), (2006.41, 5473.8), (2006.6, 5472.3), (2006.79, 5475.3),
    (2006.99, 5475.3), (2007.18, 5475.3), (2007.37, 5475.3), (2007.63, 5472.8), (2007.88, 5469.4), (2008.01, 5475.3),
    (2008.21, 5477.2), (2008.4, 5472.8), (2008.59, 5470.4), (2008.78, 5468.9), (2008.97, 5471.4), (2009.17, 5474.8),
    (2009.36, 5470.9), (2009.55, 5468.9), (2009.74, 5467.5), (2009.94, 5466.0), (2010.13, 5469.4), (2010.32, 5467.0),
    (2010.51, 5464.5), (2010.71, 5459.6), (2010.96, 5466.5), (2011.15, 5464.5), (2011.41, 5461.1), (2011.6, 5457.7),
    (2011.79, 5462.6), (2011.99, 5461.6), (2012.18, 5462.6), (2012.31, 5461.1), (2012.5, 5456.2), (2012.69, 5458.2),
    (2012.88, 5458.7), (2013.08, 5459.6), (2013.27, 5458.2), (2013.46, 5455.3), (2013.65, 5455.3), (2013.78, 5457.7),
    (2014.04, 5456.2), (2014.29, 5454.8), (2014.49, 5452.8), (2014.58, 5450.1), (2014.74, 5453.3), (2014.94, 5453.3),
]

FONT = "DejaVu Sans"
FIG_W = 3475
FRAME_W = 3162
BORDER_L = 281


def unzip(pairs):
    return [p[0] for p in pairs], [p[1] for p in pairs]


def make_panel(title, train, test, imp, yticks, yrange, letter, legend_loc, height, top, bottom, x_standoff):
    p = figure(width=FIG_W, height=height, output_backend="svg", toolbar_location=None,
               x_range=Range1d(*X_RANGE), y_range=Range1d(*yrange),
               min_border_left=BORDER_L, min_border_right=FIG_W - BORDER_L - FRAME_W,
               min_border_top=top, min_border_bottom=bottom)
    p.title.text = title
    p.title.align = "center"
    p.title.text_font = FONT
    p.title.text_font_style = "normal"
    p.title.text_font_size = "96px"
    p.title.text_color = "black"
    p.title.standoff = 52
    p.grid.visible = False
    p.outline_line_color = "black"
    p.outline_line_width = 8
    p.outline_line_alpha = 1.0
    p.background_fill_color = "white"
    p.border_fill_color = "white"

    p.xaxis.ticker = X_TICKS
    p.yaxis.ticker = yticks
    for ax in (p.xaxis, p.yaxis):
        ax.axis_line_color = "black"
        ax.axis_line_width = 8
        ax.major_tick_out = 24
        ax.major_tick_in = 0
        ax.major_tick_line_width = 6
        ax.minor_tick_line_color = None
        ax.major_label_text_font = FONT
        ax.major_label_text_font_size = "80px"
        ax.major_label_text_color = "black"
    p.xaxis.major_label_standoff = x_standoff
    p.yaxis.major_label_standoff = 12

    tx, ty = unzip(train)
    sx, sy = unzip(test)
    ix, iy = unzip(imp)
    r_train = p.scatter(tx, ty, marker="cross", size=38, line_width=9, line_color=TRAIN_COLOR)
    r_test = p.scatter(sx, sy, marker="circle", size=26, fill_color=TEST_COLOR, line_color=TEST_COLOR, line_width=1)
    r_imp = p.line(ix, iy, line_color=IMP_COLOR, line_width=3.5)

    for yr, alpha in zip(SPLIT_YEARS, [0.55, 0.85]):
        p.add_layout(Span(location=yr, dimension="height", line_color=TRAIN_COLOR,
                          line_width=2, line_alpha=alpha))

    p.text(x=[letter[1]], y=[letter[2]], text=[letter[0]], text_font=value("Liberation Sans"),
           text_font_style="bold", text_font_size="130px", text_align="center",
           text_baseline="middle", text_color="black")

    legend = Legend(items=[LegendItem(label=LEGEND_LABELS[0], renderers=[r_train]),
                           LegendItem(label=LEGEND_LABELS[1], renderers=[r_test]),
                           LegendItem(label=LEGEND_LABELS[2], renderers=[r_imp])],
                    location=legend_loc)
    legend.label_text_font = FONT
    legend.label_text_font_size = "58px"
    legend.label_text_color = "black"
    legend.glyph_width = 120
    legend.glyph_height = 76
    legend.label_height = 76
    legend.label_standoff = 46
    legend.spacing = 0
    legend.padding = 14
    legend.margin = 27
    legend.border_line_color = "#d0d0d0"
    legend.border_line_width = 5
    legend.background_fill_color = "white"
    legend.background_fill_alpha = 0.8
    p.add_layout(legend)
    return p


pa = make_panel(A_TITLE, A_TRAIN, A_TEST, A_IMP, A_YTICKS, A_YRANGE, A_LETTER, "top_left", 952, 132, 152, 36)
pb = make_panel(B_TITLE, B_TRAIN, B_TEST, B_IMP, B_YTICKS, B_YRANGE, B_LETTER, "top_left", 976, 160, 150, 36)
pc = make_panel(C_TITLE, C_TRAIN, C_TEST, C_IMP, C_YTICKS, C_YRANGE, C_LETTER, "top_right", 969, 160, 139, 30)

layout = column(pa, pb, pc)
open("out.html", "w").write(file_html(layout, INLINE))
